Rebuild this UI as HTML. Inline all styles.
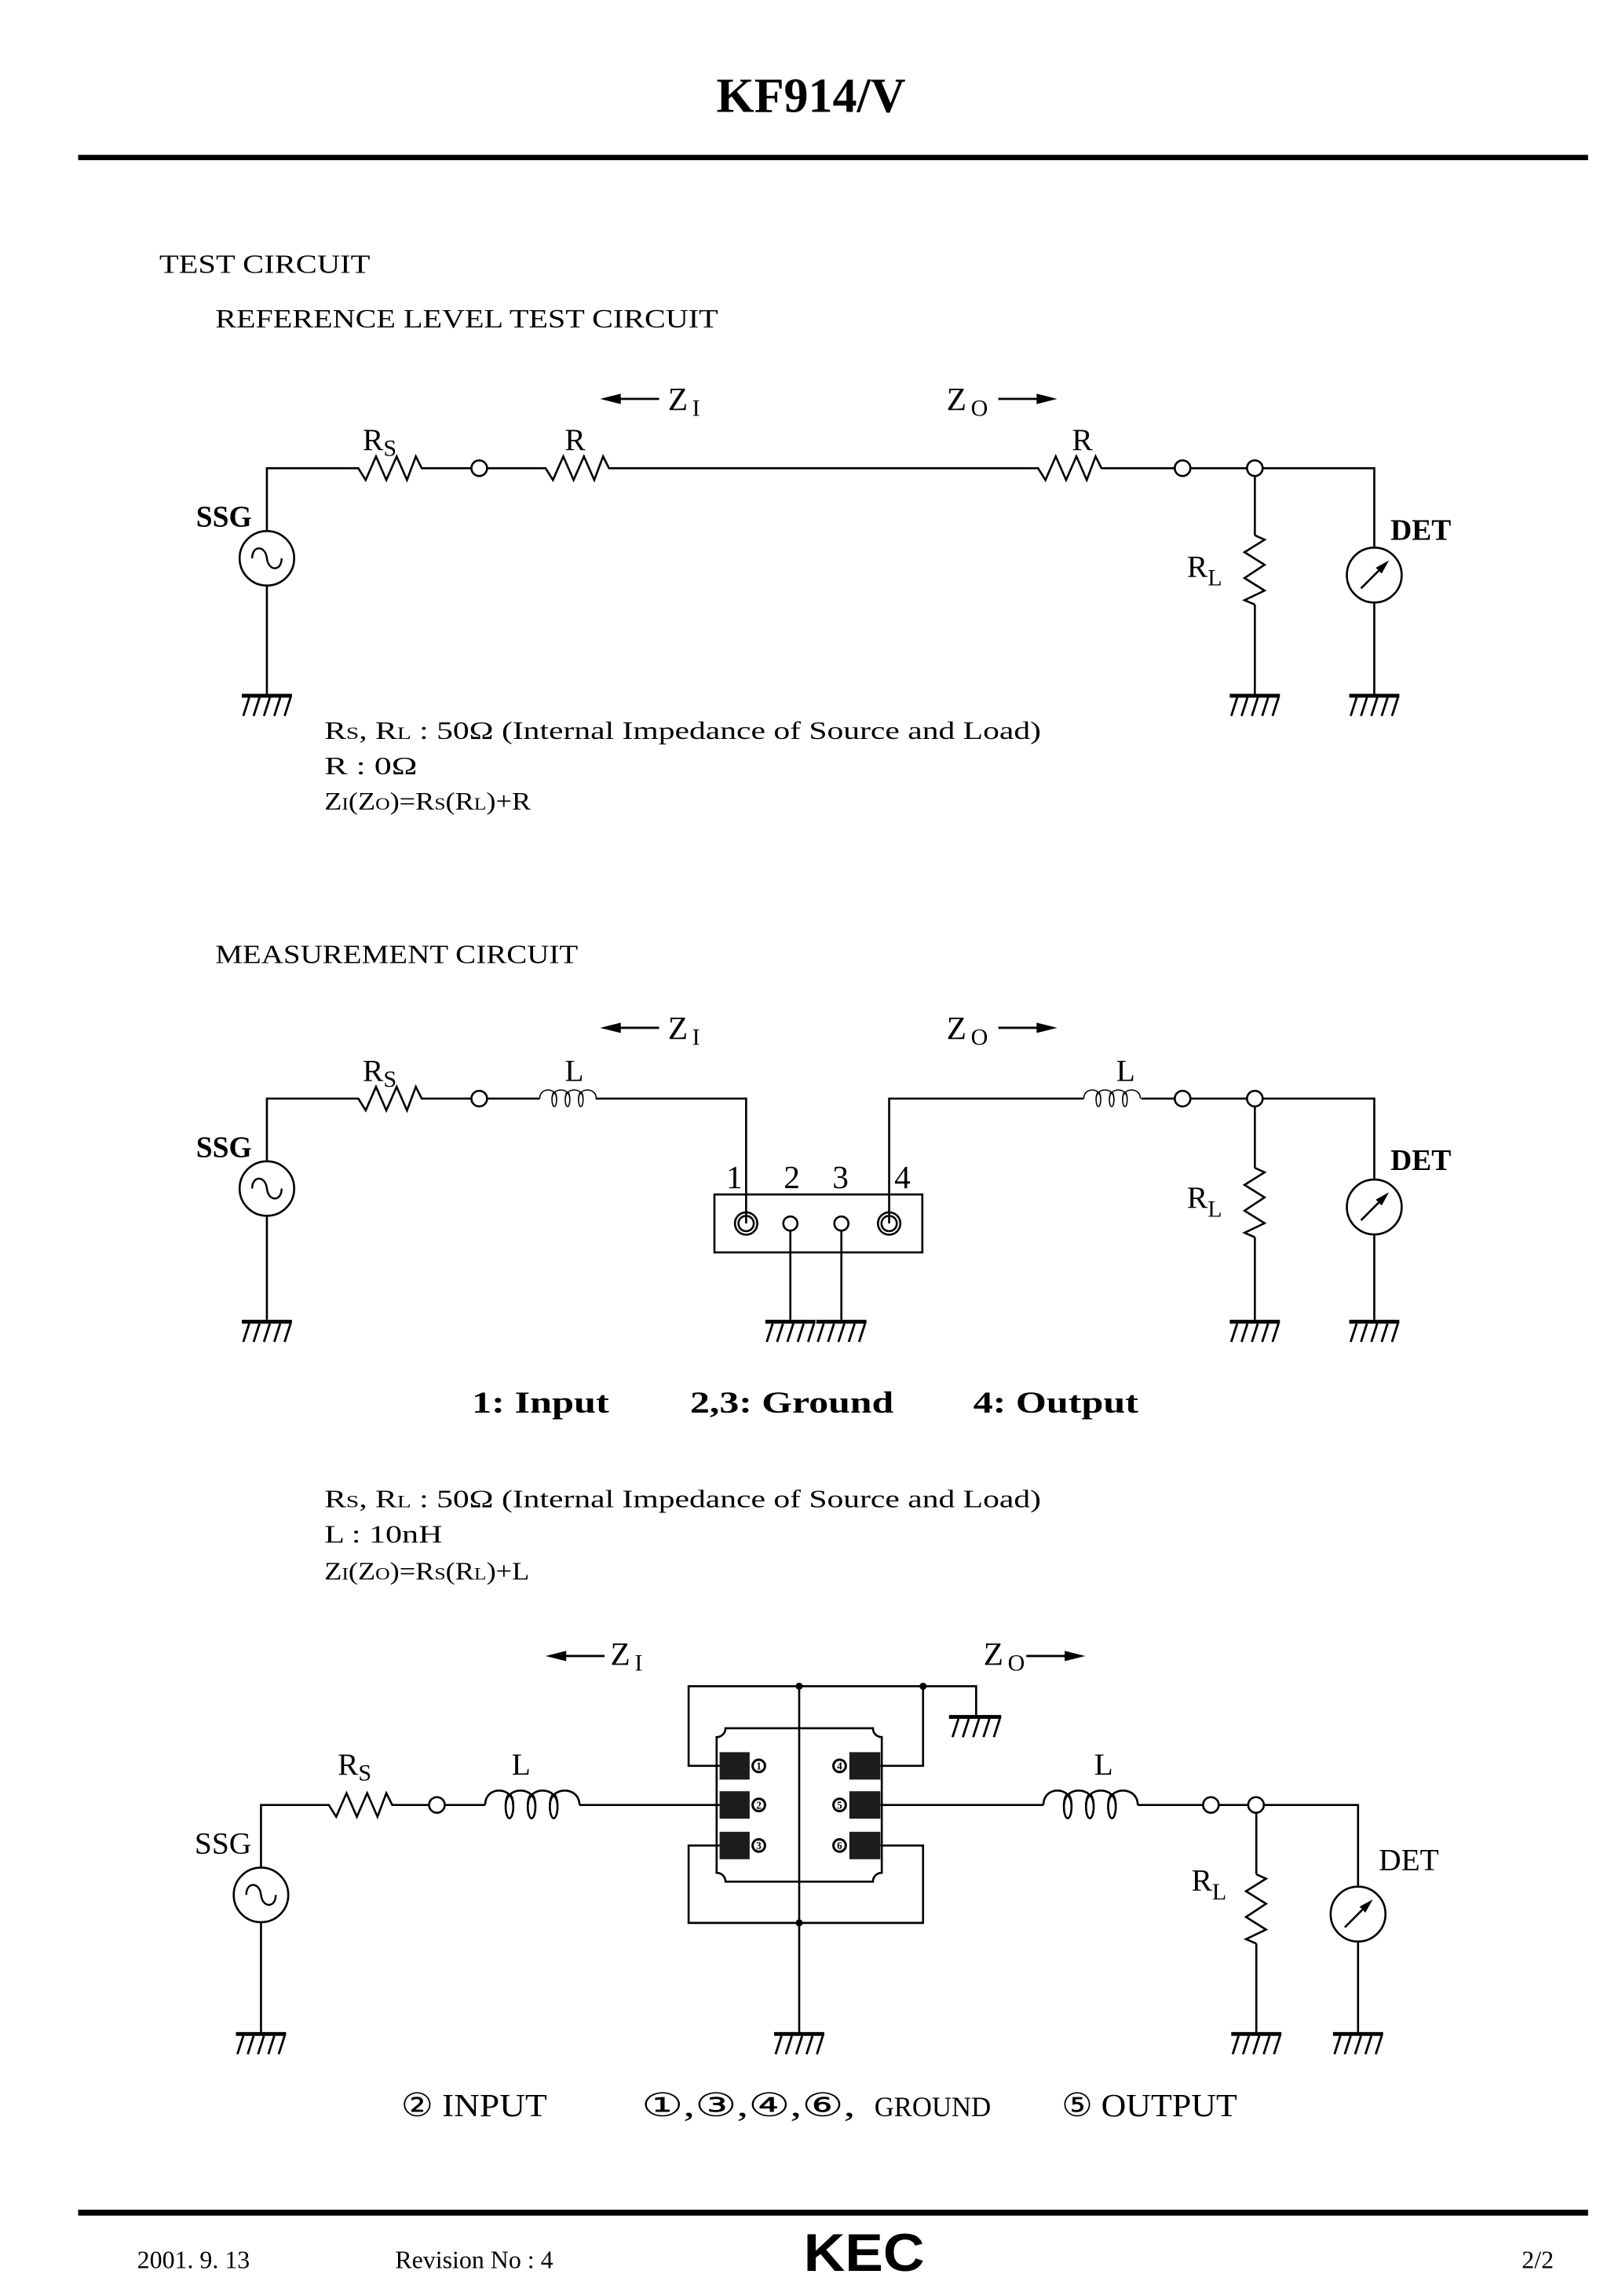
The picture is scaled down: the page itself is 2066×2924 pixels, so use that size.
<!DOCTYPE html>
<html><head><meta charset="utf-8"><style>
html,body{margin:0;padding:0;background:#fff;}
svg{display:block;}
text{font-family:"Liberation Serif",serif;fill:#000;}
</style></head><body>
<svg width="2066" height="2924" viewBox="0 0 1100 1557" preserveAspectRatio="none" xmlns="http://www.w3.org/2000/svg">
<defs>
<g id="gnd"><rect x="-17" y="0" width="34" height="2.6" fill="#000"/>
<path d="M-12,2.6 L-16,15 M-5,2.6 L-9,15 M2,2.6 L-2,15 M9,2.6 L5,15 M16,2.6 L12,15" stroke="#000" stroke-width="1.5" fill="none"/></g>
<path id="res" d="M0,0 L4,0 L9,8 L16,-8 L23,8 L30,-8 L37,8 L43,-8 L47,0 L48,0" stroke="#000" stroke-width="1.4" fill="none"/>
<g id="ind" stroke="#000" stroke-width="1.4" fill="none">
<path d="M0,0 C0,-13 19,-13 19,0 M14,0 C14,-13 34,-13 34,0 M29,0 C29,-13 49,-13 49,0 M44,0 C44,-13 64,-13 64,0"/>
<ellipse cx="16.5" cy="1" rx="2.6" ry="8"/><ellipse cx="31.5" cy="1" rx="2.6" ry="8"/><ellipse cx="46.5" cy="1" rx="2.6" ry="8"/></g>
<path id="rl" d="M0,0 L6.6,3 L-7,11.5 L6.6,20 L-7,29 L6.6,37.5 L-7,44 L0,47" stroke="#000" stroke-width="1.4" fill="none"/>
<g id="ssg"><circle r="18.5" fill="#fff" stroke="#000" stroke-width="1.4"/>
<path d="M-10,0 C-10,-9 -1,-9 0,0 C1,9 10,9 10,0" stroke="#000" stroke-width="1.3" fill="none"/></g>
<g id="det"><circle r="18.6" fill="#fff" stroke="#000" stroke-width="1.4"/>
<path d="M-9,9 L4,-4" stroke="#000" stroke-width="1.4"/><path d="M10,-10 L1,-5 L5,-1 Z" fill="#000"/></g>
<g id="node"><circle r="5.3" fill="#fff" stroke="#000" stroke-width="1.4"/></g>
<g id="larr"><path d="M0,0 L-28,0" stroke="#000" stroke-width="1.5"/><path d="M-40,0 L-26,-3.5 L-26,3.5 Z" fill="#000"/></g>
<g id="rarr"><path d="M0,0 L28,0" stroke="#000" stroke-width="1.5"/><path d="M40,0 L26,-3.5 L26,3.5 Z" fill="#000"/></g>
</defs>

<!-- header -->
<text x="550" y="76" font-size="33" font-weight="bold" text-anchor="middle">KF914/V</text>
<rect x="53" y="105" width="1024" height="3.6" fill="#000"/>
<text x="108" y="185" font-size="18" textLength="143" lengthAdjust="spacingAndGlyphs">TEST CIRCUIT</text>
<text x="146" y="222" font-size="18" textLength="341" lengthAdjust="spacingAndGlyphs">REFERENCE LEVEL TEST CIRCUIT</text>

<!-- circuit 1 -->
<g stroke="#000" stroke-width="1.4" fill="none">
<path d="M181,470.5 L181,317.5 L239,317.5 M287,317.5 L320,317.5 M330,317.5 L366,317.5 M414,317.5 L700,317.5 M748,317.5 L797,317.5 M807,317.5 L846,317.5 M856,317.5 L932,317.5 L932,470.5 M851,323 L851,363 M851,410 L851,470.5"/>
</g>
<use href="#res" x="239" y="317.5"/><use href="#res" x="366" y="317.5"/><use href="#res" x="700" y="317.5"/>
<use href="#node" x="325" y="317.5"/><use href="#node" x="802" y="317.5"/><use href="#node" x="851" y="317.5"/>
<use href="#rl" x="851" y="363"/>
<use href="#ssg" x="181" y="378.6"/><use href="#det" x="932" y="390"/>
<use href="#gnd" x="181" y="470.5"/><use href="#gnd" x="851" y="470.5"/><use href="#gnd" x="932" y="470.5"/>
<text x="246" y="305" font-size="21">R<tspan font-size="16" dy="4">S</tspan></text>
<text x="383" y="305" font-size="21">R</text>
<text x="727" y="305" font-size="21">R</text>
<text x="133" y="357" font-size="20" font-weight="bold">SSG</text>
<text x="943" y="366" font-size="20" font-weight="bold">DET</text>
<text x="805" y="391" font-size="21">R<tspan font-size="16" dy="6">L</tspan></text>
<use href="#larr" x="447" y="270.5"/>
<text x="453" y="278" font-size="22">Z<tspan font-size="16" dy="4" dx="3">I</tspan></text>
<text x="642" y="278" font-size="22">Z<tspan font-size="16" dy="4" dx="3">O</tspan></text>
<use href="#rarr" x="677" y="270.5"/>
<g font-size="17">
<text x="220" y="501" textLength="486" lengthAdjust="spacingAndGlyphs">R<tspan font-size="12">S</tspan>, R<tspan font-size="12">L</tspan> : 50Ω  (Internal  Impedance  of  Source  and  Load)</text>
<text x="220" y="525" textLength="63" lengthAdjust="spacingAndGlyphs">R : 0Ω</text>
<text x="220" y="549" textLength="140" lengthAdjust="spacingAndGlyphs">Z<tspan font-size="12">I</tspan>(Z<tspan font-size="12">O</tspan>)=R<tspan font-size="12">S</tspan>(R<tspan font-size="12">L</tspan>)+R</text>
</g>

<!-- circuit 2 -->
<text x="146" y="653" font-size="18" textLength="246" lengthAdjust="spacingAndGlyphs">MEASUREMENT CIRCUIT</text>
<use href="#larr" x="447" y="697"/>
<text x="453" y="704.5" font-size="22">Z<tspan font-size="16" dy="4" dx="3">I</tspan></text>
<text x="642" y="704.5" font-size="22">Z<tspan font-size="16" dy="4" dx="3">O</tspan></text>
<use href="#rarr" x="677" y="697"/>
<g stroke="#000" stroke-width="1.4" fill="none">
<path d="M181,895 L181,745 L239,745 M287,745 L320,745 M330,745 L366,745 M404,745 L506,745 L506,829.7 M603,829.7 L603,745 L735,745 M774,745 L797,745 M807,745 L846,745 M856,745 L932,745 L932,895 M851,750 L851,792 M851,839 L851,895"/>
<rect x="484.5" y="810" width="141" height="39.3"/>
<circle cx="506" cy="829.7" r="7.6"/><circle cx="506" cy="829.7" r="5.2"/>
<circle cx="603" cy="829.7" r="7.6"/><circle cx="603" cy="829.7" r="5.2"/>
<circle cx="536" cy="829.7" r="4.8"/><circle cx="570.6" cy="829.7" r="4.8"/>
<path d="M536,834.5 L536,895 M570.6,834.5 L570.6,895"/>
</g>
<use href="#res" x="239" y="745"/>
<use href="#ind" transform="translate(366,745) scale(0.6)"/>
<use href="#ind" transform="translate(735,745) scale(0.6)"/>
<use href="#node" x="325" y="745"/><use href="#node" x="802" y="745"/><use href="#node" x="851" y="745"/>
<use href="#rl" x="851" y="792"/>
<use href="#ssg" x="181" y="806"/><use href="#det" x="932" y="818.5"/>
<use href="#gnd" x="181" y="895"/><use href="#gnd" x="536" y="895"/><use href="#gnd" x="570.6" y="895"/><use href="#gnd" x="851" y="895"/><use href="#gnd" x="932" y="895"/>
<text x="246" y="733" font-size="21">R<tspan font-size="16" dy="4">S</tspan></text>
<text x="383" y="733" font-size="21">L</text>
<text x="757" y="733" font-size="21">L</text>
<text x="133" y="784.5" font-size="20" font-weight="bold">SSG</text>
<text x="943" y="793.5" font-size="20" font-weight="bold">DET</text>
<text x="805" y="819" font-size="21">R<tspan font-size="16" dy="6">L</tspan></text>
<g font-size="22" text-anchor="middle">
<text x="498" y="805.6">1</text><text x="537" y="805.6">2</text><text x="570" y="805.6">3</text><text x="612" y="805.6">4</text>
</g>
<g font-size="21" font-weight="bold">
<text x="320" y="958" textLength="93" lengthAdjust="spacingAndGlyphs">1: Input</text>
<text x="468" y="958" textLength="138" lengthAdjust="spacingAndGlyphs">2,3: Ground</text>
<text x="660" y="958" textLength="112" lengthAdjust="spacingAndGlyphs">4: Output</text>
</g>
<g font-size="17">
<text x="220" y="1022" textLength="486" lengthAdjust="spacingAndGlyphs">R<tspan font-size="12">S</tspan>, R<tspan font-size="12">L</tspan> : 50Ω  (Internal  Impedance  of  Source  and  Load)</text>
<text x="220" y="1046" textLength="80" lengthAdjust="spacingAndGlyphs">L : 10nH</text>
<text x="220" y="1071" textLength="139" lengthAdjust="spacingAndGlyphs">Z<tspan font-size="12">I</tspan>(Z<tspan font-size="12">O</tspan>)=R<tspan font-size="12">S</tspan>(R<tspan font-size="12">L</tspan>)+L</text>
</g>

<!-- circuit 3 -->
<use href="#larr" x="410" y="1123"/>
<text x="414" y="1129" font-size="22">Z<tspan font-size="16" dy="4" dx="3">I</tspan></text>
<text x="667" y="1129" font-size="22">Z<tspan font-size="16" dy="4" dx="3">O</tspan></text>
<use href="#rarr" x="696" y="1123"/>
<g stroke="#000" stroke-width="1.4" fill="none">
<path d="M177,1378 L177,1224 L219,1224 M267,1224 L291,1224 M301.5,1224 L329,1224 M393,1224 L488,1224 M597,1224 L707.6,1224 M771.6,1224 L816,1224 M826.5,1224 L846.5,1224 M857,1224 L921,1224 L921,1378 M852,1229.5 L852,1271 M852,1318 L852,1378"/>
<path d="M488,1197.5 L467,1197.5 L467,1143.5 L662,1143.5 L662,1164 M626,1143.5 L626,1197.5 L597,1197.5"/>
<path d="M488,1251.5 L467,1251.5 L467,1304 L626,1304 L626,1251.5 L597,1251.5"/>
<path d="M542,1143.5 L542,1378"/>
<path d="M492,1172 L592,1172 A6,6 0 0 0 598,1178 L598,1270 A6,6 0 0 0 592,1276 L492,1276 A6,6 0 0 0 486,1270 L486,1178 A6,6 0 0 0 492,1172 Z"/>
</g>
<rect x="643.6" y="1163" width="35.4" height="2.6" fill="#000"/>
<path d="M650,1165.6 L646,1178 M657,1165.6 L653,1178 M664,1165.6 L660,1178 M671,1165.6 L667,1178 M678,1165.6 L674,1178" stroke="#000" stroke-width="1.5"/>
<circle cx="542" cy="1143.5" r="2.4"/><circle cx="626" cy="1143.5" r="2.4"/><circle cx="542" cy="1304" r="2.4"/>
<g fill="#1c1c1c">
<rect x="488" y="1188.2" width="20.4" height="18.6"/><rect x="488" y="1214.7" width="20.4" height="18.6"/><rect x="488" y="1242.2" width="20.4" height="18.6"/>
<rect x="576" y="1188.2" width="21" height="18.6"/><rect x="576" y="1214.7" width="21" height="18.6"/><rect x="576" y="1242.2" width="21" height="18.6"/>
</g>
<g stroke="#000" stroke-width="1.6" fill="#fff">
<circle cx="514.6" cy="1197.5" r="4.2"/><circle cx="514.6" cy="1224" r="4.2"/><circle cx="514.6" cy="1251.5" r="4.2"/>
<circle cx="569.4" cy="1197.5" r="4.2"/><circle cx="569.4" cy="1224" r="4.2"/><circle cx="569.4" cy="1251.5" r="4.2"/>
</g>
<g font-size="7" font-weight="bold" text-anchor="middle">
<text x="514.6" y="1200">1</text><text x="514.6" y="1226.5">2</text><text x="514.6" y="1254">3</text>
<text x="569.4" y="1200">4</text><text x="569.4" y="1226.5">5</text><text x="569.4" y="1254">6</text>
</g>
<use href="#res" x="219" y="1224"/>
<use href="#ind" x="329" y="1224"/><use href="#ind" x="707.6" y="1224"/>
<use href="#node" x="296.3" y="1224"/><use href="#node" x="821.2" y="1224"/><use href="#node" x="851.8" y="1224"/>
<use href="#rl" x="852" y="1271"/>
<use href="#ssg" x="177" y="1285"/><use href="#det" x="921" y="1298"/>
<use href="#gnd" x="177" y="1378"/><use href="#gnd" x="542" y="1378"/><use href="#gnd" x="852" y="1378"/><use href="#gnd" x="921" y="1378"/>
<text x="229" y="1203.5" font-size="21">R<tspan font-size="16" dy="4">S</tspan></text>
<text x="347" y="1203.5" font-size="21">L</text>
<text x="742" y="1203.5" font-size="21">L</text>
<text x="132" y="1257" font-size="21">SSG</text>
<text x="935" y="1268" font-size="21">DET</text>
<text x="808" y="1282" font-size="21">R<tspan font-size="16" dy="6">L</tspan></text>
<g font-size="22">
<text x="272" y="1435" textLength="99" lengthAdjust="spacingAndGlyphs">② INPUT</text>
<text x="435" y="1435" textLength="145" lengthAdjust="spacingAndGlyphs">①,③,④,⑥,</text>
<text x="593" y="1435" font-size="19" textLength="79" lengthAdjust="spacingAndGlyphs">GROUND</text>
<text x="720" y="1435" textLength="119" lengthAdjust="spacingAndGlyphs">⑤ OUTPUT</text>
</g>

<!-- footer -->
<rect x="53" y="1498.5" width="1024" height="4" fill="#000"/>
<text x="93" y="1538" font-size="17">2001. 9. 13</text>
<text x="268" y="1538" font-size="17">Revision No : 4</text>
<text x="545" y="1540" font-size="36" font-weight="bold" textLength="82" lengthAdjust="spacingAndGlyphs" style="font-family:'Liberation Sans',sans-serif">KEC</text>
<text x="1032" y="1538" font-size="17">2/2</text>
</svg>
</body></html>
